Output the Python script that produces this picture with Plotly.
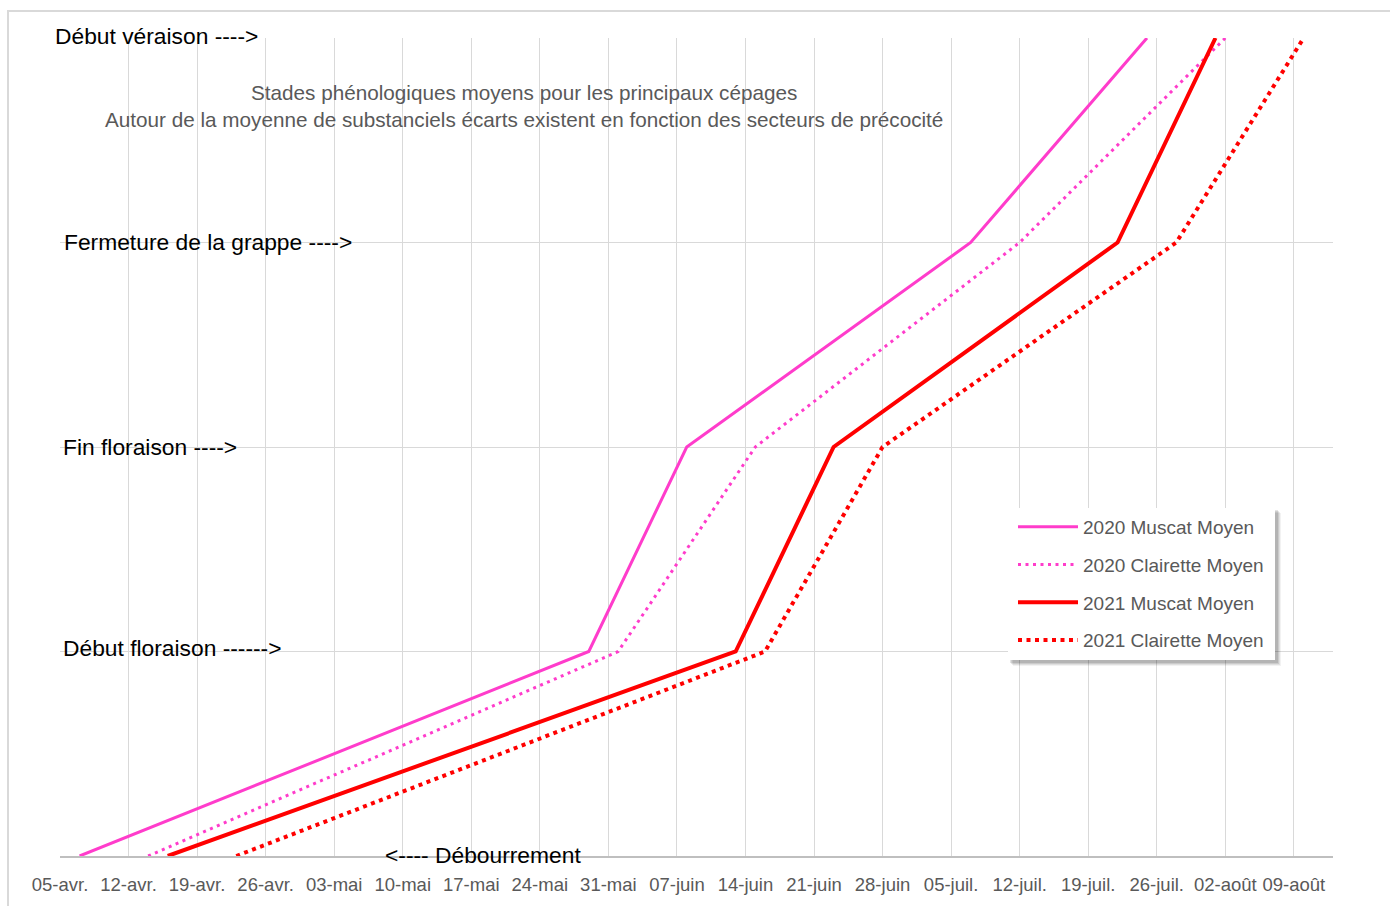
import plotly.graph_objects as go

# Phenological stages (y value) and the date each stage is reached
stades = [0, 1, 2, 3, 4]
noms_stades = ["<---- Débourrement", "Début floraison ------>", "Fin floraison ---->",
               "Fermeture de la grappe ---->", "Début véraison ---->"]

muscat_2020 = ["2021-04-07", "2021-05-29", "2021-06-08", "2021-07-07", "2021-07-25"]
clairette_2020 = ["2021-04-14", "2021-06-01", "2021-06-15", "2021-07-12", "2021-08-02"]
muscat_2021 = ["2021-04-16", "2021-06-13", "2021-06-23", "2021-07-22", "2021-08-01"]
clairette_2021 = ["2021-04-23", "2021-06-16", "2021-06-28", "2021-07-28", "2021-08-10"]

tick_dates = ["2021-04-05", "2021-04-12", "2021-04-19", "2021-04-26", "2021-05-03",
              "2021-05-10", "2021-05-17", "2021-05-24", "2021-05-31", "2021-06-07",
              "2021-06-14", "2021-06-21", "2021-06-28", "2021-07-05", "2021-07-12",
              "2021-07-19", "2021-07-26", "2021-08-02", "2021-08-09"]
tick_labels = ["05-avr.", "12-avr.", "19-avr.", "26-avr.", "03-mai", "10-mai", "17-mai",
               "24-mai", "31-mai", "07-juin", "14-juin", "21-juin", "28-juin", "05-juil.",
               "12-juil.", "19-juil.", "26-juil.", "02-août", "09-août"]

W, H = 1390, 906
ML, MR, MT, MB = 60, 57, 38, 50
PW, PH = W - ML - MR, H - MT - MB


def px_x(p):
    return (p - ML) / PW


def px_y(p):
    return (H - MB - p) / PH


MAGENTA = "#FF3CCB"
RED = "#FF0000"
GREY_TXT = "#595959"
FONT = "Liberation Sans Narrow, Liberation Sans, Arial"

series = [
    ("2020 Muscat Moyen", muscat_2020, MAGENTA, 3, "solid"),
    ("2020 Clairette Moyen", clairette_2020, MAGENTA, 3, "3px,4.5px"),
    ("2021 Muscat Moyen", muscat_2021, RED, 4, "solid"),
    ("2021 Clairette Moyen", clairette_2021, RED, 4, "4px,4.5px"),
]

fig = go.Figure()
for i, (name, dates, color, width, dash) in enumerate(series):
    fig.add_trace(go.Scatter(
        x=dates, y=stades, mode="lines", name=name, legendgroup=str(i),
        line=dict(color=color, width=width, dash=dash),
        hoverinfo="skip",
    ))

annotations = []
label_pos = {0: (383, 1), 1: (61, 4), 2: (61, 0), 3: (62, 1), 4: (53, 2)}
for s, txt in zip(stades, noms_stades):
    left, shift = label_pos[s]
    annotations.append(dict(
        text=txt, x=px_x(left), xref="paper", xanchor="left",
        y=s, yref="y", yanchor="middle", yshift=shift, showarrow=False,
        font=dict(family=FONT, size=22.8, color="#000000"),
    ))

for txt, ypx in [("Stades phénologiques moyens pour les principaux cépages", 92),
                 ("Autour de la moyenne de substanciels écarts existent en fonction des secteurs de précocité", 119)]:
    annotations.append(dict(
        text=txt, x=px_x(524), xref="paper", xanchor="center",
        y=px_y(ypx), yref="paper", yanchor="middle", showarrow=False,
        font=dict(family=FONT, size=20.7, color=GREY_TXT),
    ))

# legend panel with a soft drop shadow
LX0, LY0, LX1, LY1 = 1008, 508, 1275, 660
shapes = [
    dict(type="rect", xref="paper", yref="paper",
         x0=px_x(8), x1=px_x(W + 20), y0=px_y(H + 20), y1=px_y(11),
         line=dict(color="#D9D9D9", width=2), fillcolor="rgba(0,0,0,0)", layer="below"),
]
for off, alpha in [(6, 0.05), (5, 0.07), (4, 0.09), (3, 0.11)]:
    shapes.append(dict(type="rect", xref="paper", yref="paper",
                       x0=px_x(LX0 + off - 1), x1=px_x(LX1 + off), y0=px_y(LY1 + off), y1=px_y(LY0 + off - 1),
                       line=dict(width=0), fillcolor=f"rgba(0,0,0,{alpha})", layer="above"))
shapes.append(dict(type="rect", xref="paper", yref="paper",
                   x0=px_x(LX0), x1=px_x(LX1), y0=px_y(LY1), y1=px_y(LY0),
                   line=dict(width=0), fillcolor="white", layer="above"))

fig.update_layout(
    width=W, height=H,
    margin=dict(l=ML, r=MR, t=MT, b=MB),
    paper_bgcolor="white", plot_bgcolor="white",
    showlegend=True,
    legend=dict(
        x=px_x(1013), y=px_y(508), xanchor="left", yanchor="top",
        bgcolor="rgba(0,0,0,0)", borderwidth=0, tracegroupgap=10,
        traceorder="grouped", itemwidth=60,
        font=dict(family=FONT, size=19, color=GREY_TXT),
    ),
    xaxis=dict(
        type="date", range=["2021-04-05", "2021-08-13"],
        tickvals=tick_dates, ticktext=tick_labels, ticks="",
        showgrid=True, gridcolor="#D9D9D9", gridwidth=1,
        showline=True, linecolor="#BFBFBF", linewidth=1.5,
        zeroline=False, tickfont=dict(family=FONT, size=18.5, color=GREY_TXT),
        ticklabelstandoff=11,
    ),
    yaxis=dict(
        range=[0, 4], tickvals=stades, showticklabels=False, ticks="",
        showgrid=True, gridcolor="#D9D9D9", gridwidth=1, zeroline=False,
        showline=False,
    ),
    annotations=annotations,
    shapes=shapes,
)

fig.write_html("out.html")
